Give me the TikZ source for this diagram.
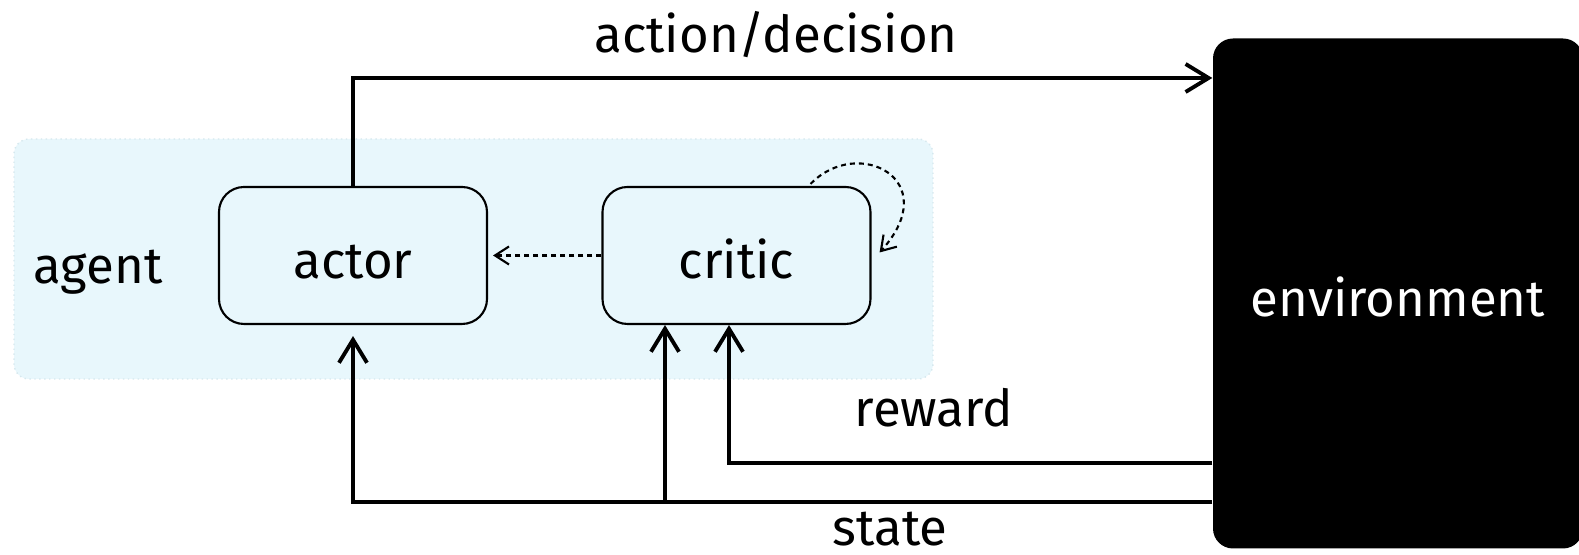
\documentclass[tikz,border=0pt]{standalone}
\usepackage{fontspec}
\setmainfont{Fira Sans}
\usetikzlibrary{arrows.meta,positioning,calc}
\definecolor{agBg}{RGB}{232,247,252}
\definecolor{agEdge}{RGB}{214,232,238}

\begin{document}
\begin{tikzpicture}[
  x=0.1mm, y=-0.1mm,
  font=\fontsize{14.5}{17}\selectfont,
  >={Straight Barb[length=2.3mm,width=2.8mm,line width=1.1pt]},
  part/.style={
    draw=black, fill=agBg, rounded corners=2.5mm, line width=0.6pt,
    minimum width=26.8mm, minimum height=13.7mm, inner sep=0pt,
    text height=1.3em, text depth=0pt
  },
  flow/.style={->, line width=1.1pt},
  hint/.style={
    -{Straight Barb[length=1.4mm,width=1.8mm]}, line width=0.6pt,
    dash pattern=on 0.5mm off 0.4mm
  }
]
\useasboundingbox (0,0) rectangle (1579,555);

% agent region
\node[draw=agEdge, fill=agBg, rounded corners=1.5mm, densely dotted,
      minimum width=91.9mm, minimum height=24mm, inner sep=0pt]
  (agent) at (473.5,259) {};
\node (agentlbl) at (98,272) {agent};

% actor and critic
\node[part] (actor) at (353,255.5) {actor};
\node[part] (critic) at (736.5,255.5) {critic};

% environment block
\node[fill=black, text=white, rounded corners=2mm, inner sep=0pt,
      minimum width=37mm, minimum height=51mm, text height=1.3em, text depth=0pt]
  (env) at (1398,293.5) {environment};

% end points on the environment edge
\coordinate (actIn) at (env.west |- 0,78);
\coordinate (rwOut) at (env.west |- 0,463);
\coordinate (stOut) at (env.west |- 0,502);
\coordinate (stUp) at ($(critic.south)+(-71.5,0)$);
\coordinate (rwUp) at ($(critic.south)+(-7.5,0)$);

% action
\draw[flow] (actor.north) |- (actIn);
\node (actlbl) at (776,35) {action/decision};

% state
\draw[flow, shorten >=1.1mm] (stOut) -| (actor.south);
\draw[flow] (stUp |- stOut) -- (stUp);
\node (stlbl) at (890,529) {state};

% reward
\draw[flow] (rwOut) -| (rwUp);
\node (rwlbl) at (934,408) {reward};

% critic feedback
\draw[hint, shorten >=0.5mm] (critic.west) -- (actor.east);
\draw[hint] ($(critic.north east)+(-61,-2)$)
  .. controls (858,135) and (945,180) .. ($(critic.east)+(8,-3)$);

\end{tikzpicture}
\end{document}
